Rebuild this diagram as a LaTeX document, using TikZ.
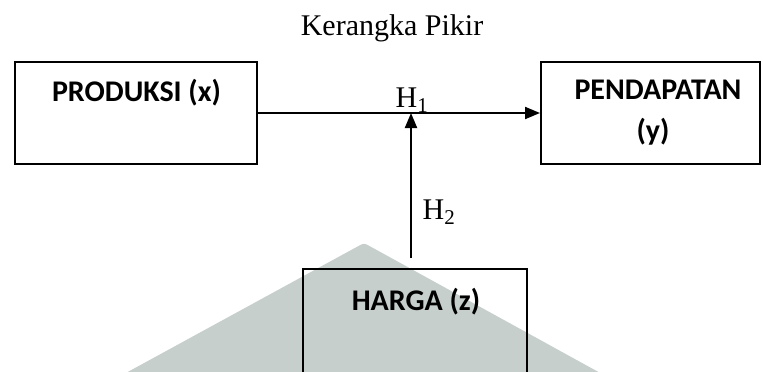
\documentclass[tikz,border=0pt]{standalone}
\usepackage{fontspec}
\setmainfont{Liberation Serif}
\newfontfamily\boxfont{Carlito}
\usetikzlibrary{arrows.meta}

\definecolor{wmgray}{RGB}{198,207,203}

\tikzset{
  varbox/.style={draw=black, line width=2pt, inner sep=0pt},
  varlabel/.style={font=\boxfont\bfseries\fontsize{30}{40}\selectfont, inner sep=0pt, anchor=base},
  hyplabel/.style={font=\fontsize{30}{34}\selectfont, inner sep=0pt, anchor=base},
  link/.style={->, line width=2pt},
}

\begin{document}
\begin{tikzpicture}[x=1pt, y=-1pt, >={Triangle[length=15pt,width=12pt]}]
  \useasboundingbox (0,0) rectangle (763,372);
  \clip (0,0) rectangle (763,372);

  % Watermark
  \fill[wmgray, rounded corners=3pt] (113,380) -- (364,243) -- (613,380) -- cycle;

  % Title
  \node[hyplabel] (title) at (392,35) {Kerangka Pikir};

  % Variables
  \node[varbox, minimum width=242pt, minimum height=102pt] (prod) at (136,113) {};
  \node[varbox, minimum width=219pt, minimum height=102pt] (pend) at (650.5,113) {};
  \node[varbox, minimum width=224pt, minimum height=160pt] (harga) at (415,349) {};

  \node[varlabel] (prodtxt) at (136.5,101) {PRODUKSI (x)};
  \node[varlabel] (pendtxt) at (658,99) {PENDAPATAN};
  \node[varlabel] (pendsub) at (653,140) {(y)};
  \node[varlabel] (hargatxt) at (416,310) {HARGA (z)};

  % Hypotheses
  \coordinate (hbase) at ([xshift=-4pt]harga.north);
  \coordinate (meet) at (hbase |- prod.east);
  \draw[link] (prod.east) -- (pend.west);
  \draw[link, shorten <=10pt] (hbase) -- (meet);

  \node[hyplabel] (h1) at (412,107) {H\textsubscript{1}};
  \node[hyplabel] (h2) at (439,219) {H\textsubscript{2}};
\end{tikzpicture}
\end{document}
